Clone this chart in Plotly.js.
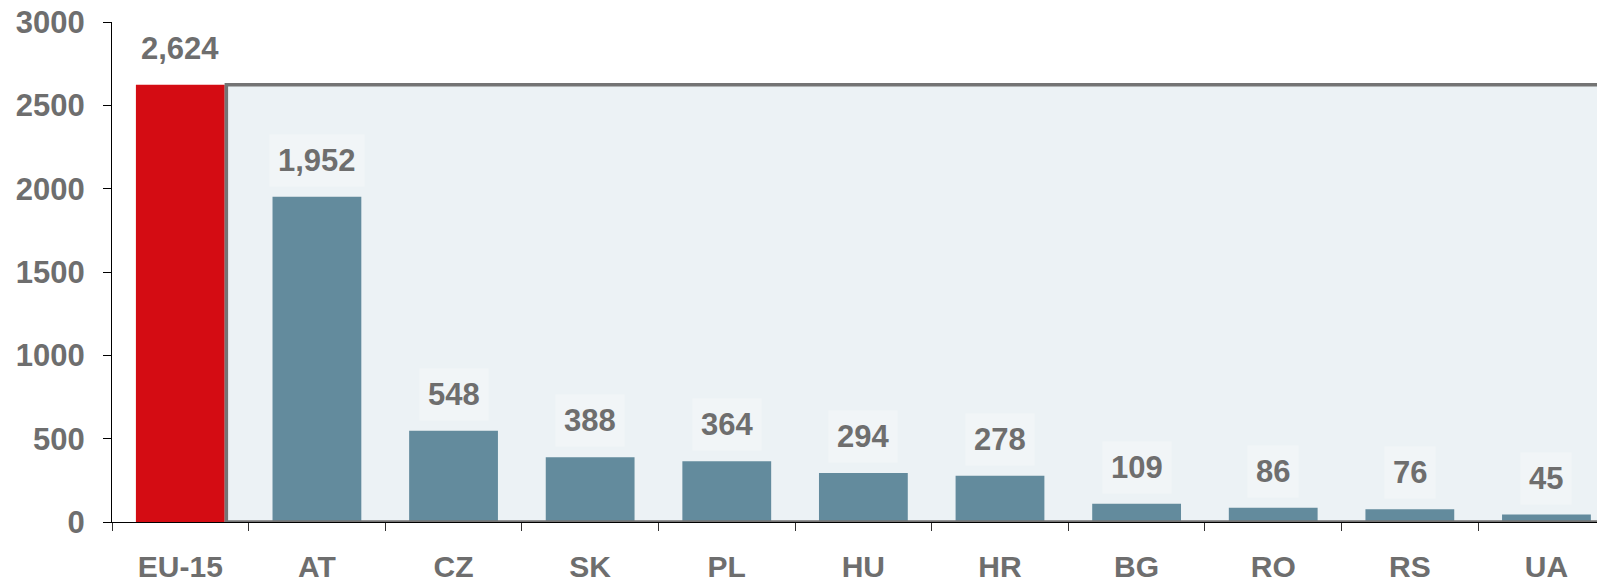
<!DOCTYPE html>
<html>
<head>
<meta charset="utf-8">
<script src="https://cdn.plot.ly/plotly-3.0.1.min.js"></script>
<style>
  html, body { margin: 0; padding: 0; background: #ffffff; }
  #chart { width: 1597px; height: 587px; }
</style>
</head>
<body>
<div id="chart"></div>
<script>
const categories = ["EU-15", "AT", "CZ", "SK", "PL", "HU", "HR", "BG", "RO", "RS", "UA"];
const values = [2624, 1952, 548, 388, 364, 294, 278, 109, 86, 76, 45];
const yTicks = [0, 500, 1000, 1500, 2000, 2500, 3000];

const RED = "#d40c13";
const STEEL = "#638b9d";
const TEXT = "#6e6e6e";
const FONT = "Liberation Sans, Arial, sans-serif";
const bargap = 0.35;

const colors = categories.map((c, i) => i === 0 ? RED : STEEL);

const trace = {
  type: "bar",
  x: categories,
  y: values,
  marker: { color: colors, line: { width: 0 } },
  hoverinfo: "x+y"
};

const annotations = categories.map((c, i) => ({
  x: c,
  y: values[i],
  xref: "x",
  yref: "y",
  text: values[i].toLocaleString("en-US"),
  showarrow: false,
  yanchor: "bottom",
  xanchor: "center",
  yshift: 10,
  bgcolor: i === 0 ? "#ffffff" : "#f1f5f7",
  borderpad: 8,
  font: { family: FONT, size: 31, color: TEXT, weight: "bold" }
}));

const halfBar = (1 - bargap) / 2;
const panelX0 = halfBar + 0.012;
const panelX1 = categories.length + 1;

const layout = {
  width: 1597,
  height: 587,
  margin: { l: 112, r: 0, t: 22, b: 65, pad: 0 },
  paper_bgcolor: "#ffffff",
  plot_bgcolor: "rgba(0,0,0,0)",
  bargap: bargap,
  showlegend: false,
  xaxis: {
    type: "category",
    range: [-0.5, 10.37],
    tickson: "boundaries",
    ticks: "outside",
    ticklen: 8,
    tickwidth: 1,
    tickcolor: "#333333",
    showline: true,
    linecolor: "#000000",
    linewidth: 1,
    showgrid: false,
    zeroline: false,
    ticklabelstandoff: 18,
    tickfont: { family: FONT, size: 30, color: TEXT, weight: "bold" }
  },
  yaxis: {
    range: [0, 3000],
    tickvals: yTicks,
    ticktext: yTicks.map(String),
    ticks: "outside",
    ticklen: 8,
    tickwidth: 1,
    tickcolor: "#000000",
    showline: true,
    linecolor: "#000000",
    linewidth: 1,
    showgrid: false,
    zeroline: false,
    ticklabelstandoff: 12,
    tickfont: { family: FONT, size: 31, color: TEXT, weight: "bold" }
  },
  shapes: [
    {
      type: "rect", xref: "x", yref: "y", layer: "below",
      x0: panelX0, x1: panelX1, y0: 0, y1: values[0],
      fillcolor: "#ecf2f5", line: { width: 0 }
    },
    {
      type: "rect", xref: "x", yref: "y", layer: "above",
      x0: panelX0, x1: panelX1, y0: 0, y1: values[0],
      fillcolor: "rgba(0,0,0,0)", line: { color: "#747474", width: 3.5 }
    }
  ],
  annotations: annotations
};

Plotly.newPlot("chart", [trace], layout, { displayModeBar: false, staticPlot: true });
</script>
</body>
</html>
